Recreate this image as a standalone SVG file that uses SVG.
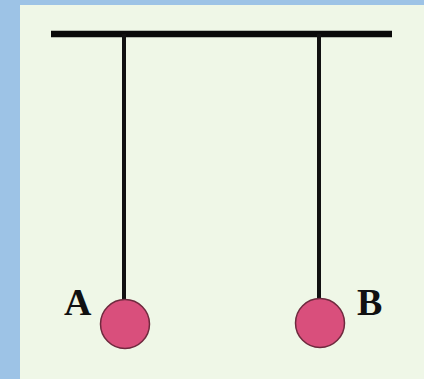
<svg xmlns="http://www.w3.org/2000/svg" width="424" height="379" viewBox="0 0 424 379">
<style>
.string{stroke:#111;stroke-width:4;fill:none}
.ball{fill:#D94F7C;stroke:#6E2A3E;stroke-width:1.5}
.lbl{font-family:"Liberation Serif","Times New Roman",serif;font-weight:bold;font-size:38px;fill:#111}
</style>
<rect x="0" y="0" width="424" height="379" fill="#9DC3E6"/>
<rect x="20" y="5" width="404" height="374" fill="#EFF7E7"/>
<g id="support">
<line x1="51" y1="34" x2="392" y2="34" stroke="#0A0A0A" stroke-width="6.5"/>
</g>
<g id="connectors">
<line class="string" x1="124" y1="34" x2="124" y2="300"/>
<line class="string" x1="319" y1="34" x2="319" y2="299"/>
</g>
<g id="ballA">
<circle class="ball" cx="125" cy="324" r="24.5"/>
<text class="lbl" x="64" y="315">A</text>
</g>
<g id="ballB">
<circle class="ball" cx="320" cy="323" r="24.5"/>
<text class="lbl" x="357" y="315">B</text>
</g>
</svg>
